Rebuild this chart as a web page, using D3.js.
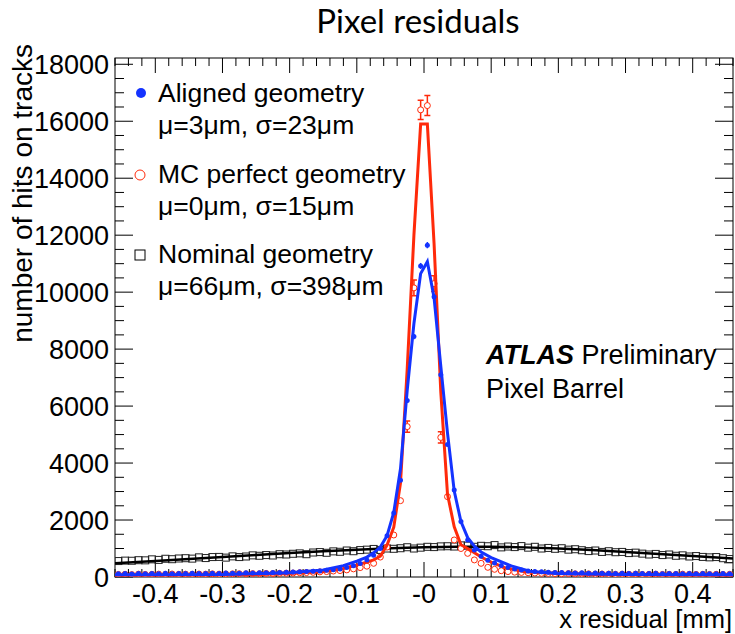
<!DOCTYPE html>
<html>
<head>
<meta charset="utf-8">
<script src="https://cdn.jsdelivr.net/npm/d3@7"></script>
<style>
	body { margin: 0; background: #fff; }
	svg { display: block; font-family: "Liberation Sans", Arial, sans-serif; }
</style>
</head>
<body>
<div id="chart"></div>
<script>

// histogram binning (x residual in mm)
var xDomain = [-0.46, 0.46];
var binWidth = 0.01;
var yDomain = [0, 18220];

var xTicks = [-0.4, -0.3, -0.2, -0.1, 0, 0.1, 0.2, 0.3, 0.4];
var xTickLabels = ["-0.4", "-0.3", "-0.2", "-0.1", "-0", "0.1", "0.2", "0.3", "0.4"];
var yTicks = [0, 2000, 4000, 6000, 8000, 10000, 12000, 14000, 16000, 18000];

// hits per bin, 92 bins from -0.46 to 0.46
var aligned = [110, 120, 105, 125, 115, 120, 110, 130, 115, 125,
	120, 130, 125, 120, 135, 125, 140, 130, 135, 145,
	140, 150, 145, 160, 155, 165, 175, 185, 190, 205,
	215, 235, 255, 285, 330, 395, 470, 600, 760, 1000,
	1450, 2250, 3400, 6200, 8440, 10920, 11650, 9840, 7100, 4650,
	3050, 1950, 1300, 950, 730, 590, 490, 400, 330, 285,
	245, 215, 195, 180, 170, 160, 155, 150, 140, 145,
	135, 140, 130, 135, 125, 130, 120, 130, 125, 120,
	130, 115, 125, 120, 115, 125, 110, 120, 115, 110,
	120, 115];

var mcPerfect = [90, 95, 85, 100, 90, 95, 100, 90, 105, 95,
	100, 95, 105, 100, 110, 100, 105, 110, 115, 110,
	120, 115, 125, 120, 130, 135, 140, 150, 155, 165,
	180, 190, 210, 225, 250, 285, 330, 380, 480, 700,
	1050, 1475, 2680, 5280, 10150, 16400, 16550, 10300, 4900, 2820,
	1300, 1000, 830, 600, 480, 340, 270, 220, 190, 170,
	160, 150, 140, 130, 125, 120, 115, 120, 110, 105,
	110, 100, 105, 100, 95, 100, 95, 100, 90, 95,
	100, 90, 95, 90, 100, 95, 90, 95, 90, 95,
	90, 95];

var nominal = [560, 575, 570, 590, 585, 620, 600, 640, 625, 650,
	660, 645, 690, 665, 700, 705, 680, 725, 700, 720,
	760, 745, 770, 755, 800, 790, 815, 830, 800, 860,
	875, 850, 900, 885, 930, 905, 945, 960, 985, 950,
	1000, 990, 1010, 1045, 1000, 1030, 1060, 1050, 1075, 1080,
	1070, 1110, 1100, 1060, 1095, 1080, 1120, 1040, 1070, 1050,
	1085, 1030, 1060, 1000, 1020, 990, 1010, 960, 975, 940,
	910, 930, 880, 905, 870, 880, 840, 855, 820, 790,
	810, 770, 790, 745, 760, 720, 735, 705, 690, 700,
	660, 630];

// error bars that are big enough to see
var errBins = [-0.025, -0.015, -0.005, 0.005, 0.015, 0.025];
var alignedErr = [80, 95, 105, 110, 100, 85];
var mcPerfectErr = [200, 280, 340, 350, 280, 200];

// fitted functions
var alignedFitX = [-0.46, -0.3, -0.2, -0.15, -0.12, -0.1, -0.085, -0.075, -0.065, -0.055, -0.045, -0.035, -0.025, -0.015, -0.005, 0.005, 0.015, 0.025, 0.035, 0.045, 0.055, 0.065, 0.075, 0.085, 0.1, 0.13, 0.16, 0.2, 0.3, 0.46];
var alignedFitY = [80, 90, 150, 250, 400, 560, 700, 850, 1050, 1450, 2270, 3800, 6550, 8900, 10650, 11070, 9800, 7400, 5050, 3020, 1945, 1380, 1080, 880, 680, 390, 190, 120, 90, 80];

var mcPerfectFitX = [-0.46, -0.35, -0.25, -0.2, -0.15, -0.12, -0.1, -0.085, -0.075, -0.065, -0.055, -0.045, -0.035, -0.025, -0.015, -0.005, 0.005, 0.015, 0.025, 0.035, 0.045, 0.055, 0.065, 0.075, 0.085, 0.1, 0.12, 0.15, 0.2, 0.25, 0.35, 0.46];
var mcPerfectFitY = [60, 70, 90, 120, 190, 300, 420, 520, 600, 730, 1120, 1750, 3300, 7300, 12000, 15900, 15900, 11700, 6500, 2900, 1760, 1130, 1000, 850, 700, 520, 330, 180, 120, 90, 70, 60];

var nominalFitX = [-0.46, -0.4, -0.35, -0.3, -0.25, -0.2, -0.15, -0.1, -0.05, 0, 0.05, 0.1, 0.15, 0.2, 0.25, 0.3, 0.35, 0.4, 0.46];
var nominalFitY = [480, 560, 630, 700, 770, 840, 905, 960, 1010, 1045, 1062, 1060, 1040, 1000, 945, 880, 810, 740, 650];

var legendLabels = ["Aligned geometry", "MC perfect geometry", "Nominal geometry"];
var legendParams = ["\u03bc=3\u03bcm, \u03c3=23\u03bcm", "\u03bc=0\u03bcm, \u03c3=15\u03bcm", "\u03bc=66\u03bcm, \u03c3=398\u03bcm"];

var blue = "#1433ff", red = "#ff2a0a";

var W = 735, H = 634;
var margin = {top: 58, right: 2, bottom: 57, left: 115};
var width = W - margin.left - margin.right;
var height = H - margin.top - margin.bottom;

var svg = d3.select("#chart").append("svg")
	.attr("width", W)
	.attr("height", H);

var g = svg.append("g")
	.attr("transform", "translate(" + margin.left + "," + margin.top + ")");

var x = d3.scaleLinear().domain(xDomain).range([0, width]);
var y = d3.scaleLinear().domain(yDomain).range([height, 0]);

var centers = d3.range(aligned.length).map(function(i) {
	return xDomain[0] + binWidth * (i + 0.5);
});

g.append("clipPath").attr("id", "clip")
	.append("rect").attr("width", width).attr("height", height);

// ticks on all four sides, ROOT style (inside the frame)
var xMinor = d3.range(-23, 24).map(function(k) { return k * 0.02; }).filter(function(v) { return v >= xDomain[0] && v <= xDomain[1]; });
var yMinor = d3.range(0, 18001, 500);

var axes = g.append("g").attr("stroke", "#000").attr("stroke-width", 1);

xMinor.forEach(function(v) {
	var major = xTicks.some(function(t) { return Math.abs(t - v) < 1e-6; });
	var len = major ? 15 : 8;
	axes.append("line").attr("x1", x(v)).attr("x2", x(v)).attr("y1", height).attr("y2", height - len);
	axes.append("line").attr("x1", x(v)).attr("x2", x(v)).attr("y1", 0).attr("y2", len);
});

yMinor.forEach(function(v) {
	var major = v % 2000 === 0;
	var len = major ? 18 : 9;
	axes.append("line").attr("x1", 0).attr("x2", len).attr("y1", y(v)).attr("y2", y(v));
	axes.append("line").attr("x1", width).attr("x2", width - len).attr("y1", y(v)).attr("y2", y(v));
});

g.append("rect")
	.attr("width", width)
	.attr("height", height)
	.attr("fill", "none")
	.attr("stroke", "#000")
	.attr("stroke-width", 1);

// tick labels
g.selectAll(".xl")
	.data(xTicks)
	.enter()
	.append("text")
	.attr("x", function(d) { return x(d); })
	.attr("y", height + 26)
	.attr("text-anchor", "middle")
	.attr("font-size", 27)
	.text(function(d, i) { return xTickLabels[i]; });

g.selectAll(".yl")
	.data(yTicks)
	.enter()
	.append("text")
	.attr("x", -6)
	.attr("y", function(d) { return y(d); })
	.attr("dy", "0.36em")
	.attr("text-anchor", "end")
	.attr("font-size", 27)
	.text(function(d) { return d; });

// axis titles
svg.append("text")
	.attr("x", 732)
	.attr("y", 628)
	.attr("text-anchor", "end")
	.attr("font-size", 25.5)
	.text("x residual [mm]");

svg.append("text")
	.attr("transform", "translate(32,44) rotate(-90)")
	.attr("text-anchor", "end")
	.attr("font-size", 28)
	.text("number of hits on tracks");

svg.append("text")
	.attr("x", 418)
	.attr("y", 33)
	.attr("text-anchor", "middle")
	.attr("font-family", "Lato, 'Open Sans', sans-serif")
	.attr("font-size", 33)
	.text("Pixel residuals");

var plot = g.append("g").attr("clip-path", "url(#clip)");

var line = d3.line()
	.x(function(d) { return x(d[0]); })
	.y(function(d) { return y(d[1]); });

function pairs(xs, ys) {
	return xs.map(function(v, i) { return [v, ys[i]]; });
}

function binOf(v) {
	return Math.round((v - xDomain[0]) / binWidth - 0.5);
}

// nominal geometry: open squares + fit
plot.selectAll(".nom")
	.data(nominal)
	.enter()
	.append("rect")
	.attr("x", function(d, i) { return x(centers[i]) - 3.5; })
	.attr("y", function(d) { return y(d) - 3.5; })
	.attr("width", 7)
	.attr("height", 7)
	.attr("fill", "none")
	.attr("stroke", "#222")
	.attr("stroke-width", 1);

plot.append("path")
	.datum(pairs(nominalFitX, nominalFitY))
	.attr("d", line)
	.attr("fill", "none")
	.attr("stroke", "#000")
	.attr("stroke-width", 2.5);

// MC perfect: open circles + fit
plot.selectAll(".mcerr")
	.data(errBins)
	.enter()
	.append("path")
	.attr("d", function(d, i) {
		var v = mcPerfect[binOf(d)];
		var cx = x(d), y0 = y(v - mcPerfectErr[i]), y1 = y(v + mcPerfectErr[i]);
		return "M" + cx + "," + y0 + "V" + y1 + "M" + (cx - 3) + "," + y0 + "H" + (cx + 3) + "M" + (cx - 3) + "," + y1 + "H" + (cx + 3);
	})
	.attr("stroke", red)
	.attr("stroke-width", 1.5)
	.attr("fill", "none");

plot.selectAll(".mc")
	.data(mcPerfect)
	.enter()
	.append("circle")
	.attr("cx", function(d, i) { return x(centers[i]); })
	.attr("cy", function(d) { return y(d); })
	.attr("r", 3)
	.attr("fill", "#fff")
	.attr("stroke", red)
	.attr("stroke-width", 1);

plot.append("path")
	.datum(pairs(mcPerfectFitX, mcPerfectFitY))
	.attr("d", line)
	.attr("fill", "none")
	.attr("stroke", red)
	.attr("stroke-width", 3);

// aligned: filled dots + fit
plot.selectAll(".alerr")
	.data(errBins)
	.enter()
	.append("line")
	.attr("x1", function(d) { return x(d); })
	.attr("x2", function(d) { return x(d); })
	.attr("y1", function(d, i) { return y(aligned[binOf(d)] - alignedErr[i]); })
	.attr("y2", function(d, i) { return y(aligned[binOf(d)] + alignedErr[i]); })
	.attr("stroke", blue)
	.attr("stroke-width", 1.5);

plot.selectAll(".al")
	.data(aligned)
	.enter()
	.append("circle")
	.attr("cx", function(d, i) { return x(centers[i]); })
	.attr("cy", function(d) { return y(d); })
	.attr("r", 2.5)
	.attr("fill", blue);

plot.append("path")
	.datum(pairs(alignedFitX, alignedFitY))
	.attr("d", line)
	.attr("fill", "none")
	.attr("stroke", blue)
	.attr("stroke-width", 3);

// legend
var legend = svg.append("g").attr("font-size", 26.5);
var rowY = [102, 183, 263];

legendLabels.forEach(function(label, i) {
	legend.append("text").attr("x", 158).attr("y", rowY[i]).text(label);
	legend.append("text").attr("x", 158).attr("y", rowY[i] + 32).text(legendParams[i]);
});

legend.append("circle").attr("cx", 141).attr("cy", 93).attr("r", 5).attr("fill", blue);
legend.append("circle").attr("cx", 140).attr("cy", 175).attr("r", 5).attr("fill", "#fff").attr("stroke", red).attr("stroke-width", 1);
legend.append("rect").attr("x", 135).attr("y", 250).attr("width", 10).attr("height", 10).attr("fill", "none").attr("stroke", "#000").attr("stroke-width", 1);

// ATLAS label
var atlas = svg.append("text").attr("x", 486).attr("y", 364).attr("font-size", 27);
atlas.append("tspan").attr("font-weight", "bold").attr("font-style", "italic").text("ATLAS");
atlas.append("tspan").text(" Preliminary");

svg.append("text").attr("x", 486).attr("y", 398).attr("font-size", 27).text("Pixel Barrel");

</script>
</body>
</html>
